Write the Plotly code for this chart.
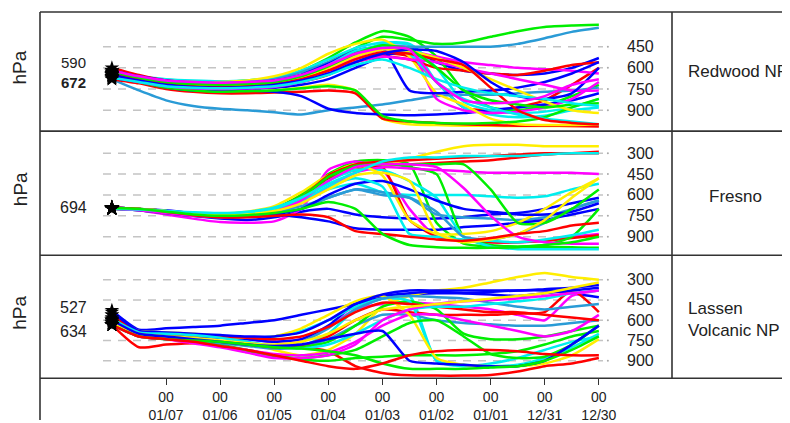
import plotly.graph_objects as go

# ---------------- data ----------------
hours = [0, 12, 24, 36, 48, 60, 72, 84, 96, 108, 120, 132, 144, 156, 168, 180, 192, 204, 216]
tick_hours = [24, 48, 72, 96, 120, 144, 168, 192, 216]
tick_labels = ["00<br>01/07", "00<br>01/06", "00<br>01/05", "00<br>01/04", "00<br>01/03",
               "00<br>01/02", "00<br>01/01", "00<br>12/31", "00<br>12/30"]
site_names = ["Redwood NP", "Fresno", "Lassen<br>Volcanic NP"]
start_labels = [["590", "672"], ["694"], ["527", "634"]]
levels = [[450, 600, 750, 900], [300, 450, 600, 750, 900], [300, 450, 600, 750, 900]]

R, B, G, C, M, Y, L = "#FF0000", "#0000FF", "#00EE00", "#00EEEE", "#FF00FF", "#FFEE00", "#2A9BD6"

redwood_colors = [R, B, G, C, M, Y, L, R, B, G, C, M, Y, L, R, B, G, C, M, Y, R, B, G, C, M]
redwood_p = [
    [672, 690, 720, 740, 745, 740, 730, 700, 650, 560, 500, 520, 700, 880, 900, 880, 830, 720, 600],
    [660, 700, 730, 745, 750, 745, 740, 720, 680, 600, 520, 480, 560, 620, 640, 650, 640, 600, 530],
    [630, 660, 690, 700, 700, 690, 670, 620, 530, 420, 340, 380, 520, 760, 880, 900, 870, 800, 720],
    [650, 680, 700, 715, 720, 715, 700, 660, 590, 500, 430, 440, 700, 880, 930, 950, 940, 900, 880],
    [640, 670, 700, 710, 710, 700, 680, 650, 600, 520, 470, 480, 520, 560, 580, 600, 610, 620, 640],
    [660, 700, 740, 760, 770, 770, 760, 740, 720, 760, 960, 1000, 1005, 1010, 1010, 1012, 1012, 1012, 1010],
    [680, 760, 830, 870, 890, 900, 915, 930, 900, 880, 860, 830, 800, 790, 790, 780, 770, 760, 740],
    [680, 710, 750, 770, 780, 780, 775, 770, 760, 780, 960, 980, 990, 1000, 1005, 1010, 1010, 1012, 1015],
    [670, 700, 740, 760, 760, 760, 770, 800, 890, 920, 930, 935, 930, 920, 900, 880, 860, 830, 780],
    [650, 680, 700, 720, 730, 720, 700, 650, 560, 460, 380, 400, 430, 420, 380, 340, 310, 300, 295],
    [620, 660, 680, 690, 695, 690, 670, 620, 540, 460, 420, 430, 600, 840, 900, 920, 910, 880, 820],
    [650, 690, 720, 735, 740, 735, 720, 680, 620, 530, 450, 460, 820, 900, 920, 910, 880, 820, 700],
    [640, 670, 690, 700, 700, 690, 660, 600, 500, 430, 400, 520, 780, 860, 960, 1000, 1005, 1005, 1000],
    [630, 660, 690, 700, 705, 700, 680, 630, 560, 480, 450, 450, 450, 450, 450, 430, 390, 345, 316],
    [600, 650, 690, 710, 720, 715, 700, 670, 620, 560, 520, 540, 600, 620, 640, 650, 620, 580, 560],
    [620, 660, 690, 705, 710, 705, 690, 650, 570, 480, 460, 760, 780, 770, 760, 740, 700, 640, 560],
    [660, 700, 740, 760, 770, 765, 760, 745, 730, 760, 940, 980, 990, 995, 990, 980, 950, 880, 820],
    [640, 670, 700, 715, 720, 715, 700, 660, 580, 480, 450, 500, 700, 820, 880, 930, 960, 980, 1000],
    [660, 700, 730, 745, 750, 745, 735, 700, 640, 560, 520, 540, 560, 600, 640, 680, 720, 760, 760],
    [650, 680, 710, 725, 730, 725, 710, 670, 600, 520, 470, 480, 530, 600, 680, 760, 840, 900, 920],
    [640, 680, 710, 730, 735, 730, 715, 680, 620, 540, 490, 500, 540, 580, 740, 900, 970, 990, 1000],
    [650, 690, 720, 735, 740, 735, 720, 690, 640, 560, 500, 470, 480, 560, 700, 800, 820, 780, 600],
    [630, 670, 700, 715, 720, 715, 700, 660, 590, 500, 440, 470, 600, 760, 830, 860, 880, 860, 850],
    [670, 700, 730, 740, 745, 740, 730, 700, 650, 580, 540, 600, 680, 740, 780, 800, 820, 850, 870],
    [620, 660, 690, 700, 705, 700, 690, 650, 580, 500, 460, 470, 700, 830, 850, 840, 800, 720, 680],
]

fresno_colors = [R, B, G, C, M, Y, L, R, B, G, C, M, Y, L, R, B, G, C, M, Y, R, C, G]
fresno_p = [
    [694, 700, 720, 740, 750, 740, 700, 600, 470, 400, 380, 380, 370, 360, 350, 330, 310, 300, 290],
    [690, 700, 720, 750, 770, 780, 760, 720, 700, 740, 760, 770, 770, 760, 740, 730, 700, 660, 620],
    [700, 705, 720, 740, 750, 740, 700, 600, 450, 360, 350, 380, 800, 950, 970, 975, 975, 975, 980],
    [690, 700, 715, 730, 740, 730, 700, 640, 560, 520, 580, 600, 600, 600, 610, 620, 610, 560, 520],
    [694, 710, 740, 770, 795, 800, 790, 700, 420, 360, 420, 700, 900, 930, 940, 940, 930, 900, 880],
    [700, 705, 715, 730, 735, 720, 680, 580, 460, 420, 390, 340, 290, 250, 240, 240, 250, 250, 250],
    [690, 700, 720, 740, 740, 730, 720, 700, 620, 560, 580, 620, 740, 760, 770, 780, 760, 700, 640],
    [694, 700, 720, 740, 750, 745, 720, 640, 480, 420, 400, 780, 900, 930, 940, 940, 930, 910, 890],
    [690, 700, 710, 730, 745, 750, 740, 760, 790, 840, 850, 850, 850, 830, 820, 800, 780, 740, 700],
    [700, 710, 730, 750, 760, 750, 720, 640, 500, 380, 370, 400, 450, 900, 960, 970, 960, 900, 700],
    [694, 705, 720, 735, 745, 735, 700, 630, 500, 420, 420, 500, 620, 900, 970, 990, 990, 990, 990],
    [690, 700, 720, 740, 750, 745, 720, 660, 540, 440, 400, 410, 420, 430, 440, 440, 440, 440, 450],
    [700, 705, 720, 740, 750, 740, 710, 620, 460, 380, 460, 780, 880, 880, 860, 800, 700, 580, 480],
    [694, 700, 715, 735, 745, 740, 720, 680, 620, 560, 600, 620, 720, 900, 920, 880, 800, 700, 640],
    [690, 700, 715, 735, 745, 740, 710, 620, 460, 380, 360, 350, 340, 330, 320, 310, 300, 300, 300],
    [700, 710, 730, 750, 760, 755, 740, 700, 600, 520, 500, 560, 640, 700, 720, 740, 740, 720, 660],
    [694, 700, 715, 735, 745, 735, 700, 620, 470, 390, 380, 380, 380, 380, 560, 800, 800, 700, 560],
    [690, 700, 715, 730, 740, 730, 700, 640, 540, 480, 540, 880, 900, 920, 930, 940, 920, 890, 850],
    [700, 710, 730, 750, 760, 750, 720, 640, 500, 400, 380, 380, 400, 550, 750, 900, 940, 950, 950],
    [694, 700, 715, 735, 745, 740, 715, 660, 560, 460, 440, 500, 870, 940, 920, 880, 780, 620, 480],
    [690, 700, 720, 745, 760, 760, 750, 740, 760, 860, 880, 900, 920, 930, 910, 880, 860, 820, 800],
    [700, 705, 715, 725, 730, 720, 690, 620, 520, 440, 360, 330, 330, 320, 320, 320, 310, 300, 300],
    [694, 700, 720, 740, 750, 745, 730, 700, 650, 700, 880, 960, 975, 980, 980, 975, 960, 940, 900],
]

lassen_colors = [R, B, G, C, M, Y, L, R, B, G, C, M, Y, L, R, B, G, C, M, Y, B, G, R]
lassen_p = [
    [634, 800, 780, 770, 765, 770, 790, 800, 830, 940, 990, 1008, 1010, 1010, 1005, 980, 940, 920, 880],
    [527, 670, 660, 650, 640, 620, 600, 560, 520, 480, 440, 410, 400, 400, 390, 380, 380, 400, 430],
    [600, 700, 720, 740, 780, 820, 860, 890, 900, 880, 870, 860, 860, 860, 850, 830, 780, 720, 680],
    [634, 700, 720, 740, 760, 780, 800, 790, 700, 520, 440, 420, 900, 930, 940, 930, 880, 800, 700],
    [600, 690, 700, 710, 720, 740, 760, 740, 650, 520, 480, 470, 480, 500, 520, 560, 600, 420, 380],
    [560, 680, 690, 700, 720, 760, 820, 860, 820, 700, 500, 420, 380, 360, 320, 280, 250, 280, 300],
    [634, 710, 730, 750, 770, 790, 810, 800, 740, 640, 560, 560, 600, 620, 630, 640, 640, 620, 600],
    [620, 700, 720, 740, 760, 780, 800, 790, 720, 600, 520, 540, 560, 560, 560, 550, 540, 380, 540],
    [634, 700, 710, 720, 730, 740, 760, 740, 640, 480, 420, 400, 390, 400, 410, 420, 400, 380, 360],
    [580, 700, 720, 740, 760, 780, 800, 800, 760, 640, 500, 460, 520, 700, 740, 740, 720, 680, 640],
    [610, 690, 700, 710, 720, 730, 720, 680, 600, 500, 440, 460, 900, 940, 920, 880, 820, 760, 720],
    [634, 720, 740, 760, 790, 820, 850, 860, 840, 760, 640, 560, 560, 600, 640, 680, 720, 680, 560],
    [600, 690, 700, 710, 720, 730, 720, 660, 560, 460, 420, 560, 880, 930, 940, 940, 920, 860, 740],
    [620, 700, 720, 740, 760, 780, 790, 760, 660, 520, 440, 420, 430, 440, 470, 500, 520, 500, 480],
    [560, 690, 700, 710, 720, 730, 740, 720, 650, 540, 470, 480, 500, 520, 540, 540, 560, 580, 600],
    [540, 680, 690, 700, 710, 720, 720, 690, 600, 480, 410, 380, 380, 380, 380, 380, 370, 360, 340],
    [634, 710, 730, 760, 790, 830, 870, 880, 860, 820, 720, 620, 600, 720, 850, 880, 870, 780, 640],
    [590, 690, 700, 710, 730, 760, 790, 810, 780, 700, 600, 520, 500, 500, 480, 460, 440, 400, 380],
    [634, 720, 740, 770, 800, 840, 880, 880, 860, 780, 600, 520, 480, 460, 450, 440, 420, 400, 380],
    [620, 700, 720, 730, 750, 770, 780, 760, 700, 600, 520, 500, 480, 460, 440, 420, 400, 360, 320],
    [600, 700, 720, 740, 760, 780, 790, 780, 740, 700, 680, 900, 920, 930, 940, 940, 900, 780, 640],
    [634, 720, 740, 750, 760, 780, 800, 810, 830, 860, 920, 960, 960, 960, 950, 940, 900, 820, 720],
    [634, 720, 740, 760, 790, 820, 860, 900, 940, 960, 920, 860, 830, 820, 820, 830, 850, 860, 860],
]

panels = [(redwood_colors, redwood_p), (fresno_colors, fresno_p), (lassen_colors, lassen_p)]

# ---------------- layout geometry (page pixels) ----------------
# the page body has an 8px margin, so the figure is sized/offset to fill the 790x423 window
OFF = 8
W, H = 790 - OFF, 423 - OFF
FONT = "Liberation Sans, Arial, sans-serif"
plot_x0, plot_x1 = 40, 671
panel_px = [(12, 132), (132, 257), (257, 381)]
y_ranges = [[1048, 204], [1033, 141], [1030, 118.5]]
label_px = [[63, 83], [209], [310, 334]]
site_px = [72, 198, 322]
label_bold = [[False, True], [False], [False, False]]


def px(x):
    return (x - OFF) / W


def py(y):
    return 1 - (y - OFF) / H


fig = go.Figure()
yaxis_names = ["y", "y2", "y3"]

for i, (cols, plist) in enumerate(panels):
    ya = yaxis_names[i]
    for c, p in zip(cols, plist):
        fig.add_trace(go.Scatter(x=hours, y=p, mode="lines", xaxis="x", yaxis=ya,
                                 line=dict(color=c, width=2.5, shape="spline", smoothing=0.6),
                                 hoverinfo="skip", showlegend=False))
    fig.add_trace(go.Scatter(x=[hours[0]] * len(plist), y=[p[0] for p in plist], mode="markers",
                             xaxis="x", yaxis=ya, cliponaxis=False,
                             marker=dict(symbol="star", size=11, color="black"),
                             hoverinfo="skip", showlegend=False))
    # tick dots at right end of grid lines
    fig.add_trace(go.Scatter(x=[220] * len(levels[i]), y=levels[i], mode="markers",
                             xaxis="x", yaxis=ya,
                             marker=dict(symbol="circle", size=2, color="#AAAAAA"),
                             hoverinfo="skip", showlegend=False))

shapes = []
annotations = []
for i in range(3):
    ya = yaxis_names[i]
    for lv in levels[i]:
        shapes.append(dict(type="line", xref="paper", yref=ya, x0=px(103), x1=px(603), y0=lv, y1=lv,
                           line=dict(color="#C4C4C4", width=1.5, dash="8px,7px"), layer="below"))
        annotations.append(dict(xref="paper", yref=ya, x=px(640), y=lv, text=str(lv), showarrow=False,
                                font=dict(family=FONT, size=16, color="#222222"),
                                xanchor="center", yanchor="middle"))
    for txt, ypx, bold in zip(start_labels[i], label_px[i], label_bold[i]):
        annotations.append(dict(xref="paper", yref="paper", x=px(73), y=py(ypx), text=txt, showarrow=False,
                                font=dict(family=FONT, size=15 if i == 0 else 16, color="#222222",
                                          weight="bold" if bold else "normal"),
                                xanchor="center", yanchor="middle"))
    mid = (panel_px[i][0] + panel_px[i][1]) / 2
    annotations.append(dict(xref="paper", yref="paper", x=px(20), y=py(mid - 4), text="hPa", showarrow=False,
                            textangle=-90, xanchor="center", yanchor="middle",
                            font=dict(family=FONT, size=19, color="#222222")))
    annotations.append(dict(xref="paper", yref="paper", x=px(686 if i != 1 else 735), y=py(site_px[i]),
                            text=site_names[i], showarrow=False, align="left",
                            xanchor="left" if i != 1 else "center", yanchor="middle",
                            font=dict(family=FONT, size=17, color="#222222")))

frame = dict(color="#333333", width=1.6)
for ypx in [12, 132, 257, 381]:
    shapes.append(dict(type="line", xref="paper", yref="paper", x0=px(40), x1=1.0, y0=py(ypx), y1=py(ypx), line=frame))
shapes.append(dict(type="line", xref="paper", yref="paper", x0=px(40), x1=px(40), y0=py(12), y1=0, line=frame))
shapes.append(dict(type="line", xref="paper", yref="paper", x0=px(672), x1=px(672), y0=py(12), y1=py(381), line=frame))

layout = dict(
    width=W, height=H, autosize=False,
    margin=dict(l=0, r=0, t=0, b=0),
    paper_bgcolor="white", plot_bgcolor="white",
    showlegend=False,
    shapes=shapes, annotations=annotations,
    xaxis=dict(domain=[px(plot_x0), px(plot_x1)], range=[-31.9, 248.0], anchor="y3",
               tickvals=tick_hours, ticktext=tick_labels, ticks="outside", ticklen=6,
               tickcolor="#333333", tickwidth=1, showgrid=False, zeroline=False, showline=False,
               tickfont=dict(family=FONT, size=14, color="#222222")),
)
for i in range(3):
    key = "yaxis" if i == 0 else "yaxis%d" % (i + 1)
    layout[key] = dict(domain=[py(panel_px[i][1]), py(panel_px[i][0])], range=y_ranges[i],
                       anchor="x", showticklabels=False, showgrid=False, zeroline=False,
                       showline=False, ticks="")

fig.update_layout(**layout)
fig.write_html("out.html")
